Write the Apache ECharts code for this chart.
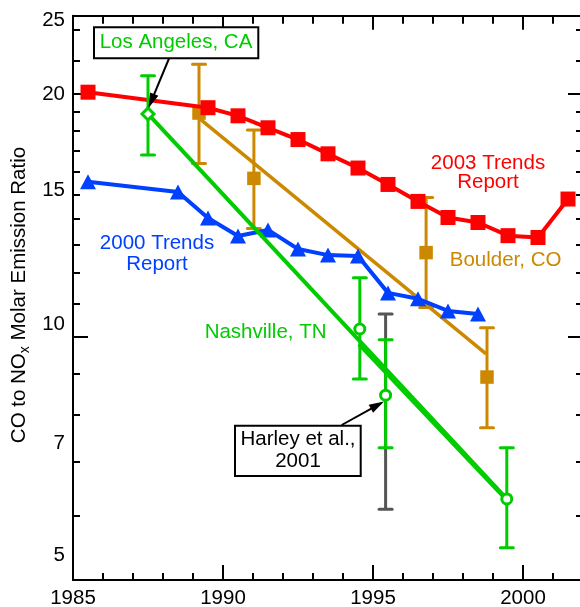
<!DOCTYPE html>
<html><head><meta charset="utf-8">
<script src="https://cdn.jsdelivr.net/npm/echarts@6/dist/echarts.min.js"></script>
<style>html,body{margin:0;padding:0;background:#fff;}#c{width:580px;height:607px;}</style>
</head><body><div id="c"></div>
<script>
// ---- axis ticks / labels ----
const xTickLabels = [1985, 1990, 1995, 2000];
const yTickLabels = [5, 7, 10, 15, 20, 25];
const yMinorTicks = [6, 7, 8, 9, 11, 12, 13, 14, 15, 16, 17, 18, 19, 22, 24];
const yMajorTicks = [10, 20];

// ---- 2003 Trends Report (red) ----
const redYears  = [1985.5, 1989.5, 1990.5, 1991.5, 1992.5, 1993.5, 1994.5, 1995.5, 1996.5, 1997.5, 1998.5, 1999.5, 2000.5, 2001.5];
const redValues = [20.1, 19.23, 18.79, 18.16, 17.56, 16.86, 16.19, 15.45, 14.72, 14.06, 13.86, 13.35, 13.28, 14.82];

// ---- 2000 Trends Report (blue) ----
const blueYears  = [1985.5, 1988.5, 1989.5, 1990.5, 1991.5, 1992.5, 1993.5, 1994.5, 1995.5, 1996.5, 1997.5, 1998.5];
const blueValues = [15.57, 15.12, 14.04, 13.34, 13.57, 12.85, 12.63, 12.6, 11.34, 11.15, 10.77, 10.68];

// ---- Boulder, CO (orange) ----
const boulderYears  = [1989.2, 1991.03, 1996.77, 1998.8];
const boulderValues = [18.94, 15.72, 12.72, 8.92];
const boulderLow    = [16.4, 13.63, 10.88, 7.72];
const boulderHigh   = [21.76, 18.05, 14.88, 10.27];
const boulderFitYears  = [1989.2, 1998.77];
const boulderFitValues = [18.67, 9.53];

// ---- Los Angeles, CA (green) ----
const laYears  = [1987.5, 1999.46];
const laValues = [18.89, 6.30];
const laLow    = [16.8, 5.48];
const laHigh   = [21.07, 7.29];

// ---- Nashville, TN (green) ----
const nashYears  = [1994.56, 1995.42];
const nashValues = [10.23, 8.47];
const nashLow    = [8.87, 7.29];
const nashHigh   = [11.84, 9.92];
const nashFitYears  = [1994.53, 1999.46];
const nashFitValues = [9.80, 6.28];

// ---- Harley et al., 2001 (gray) ----
const harleyYears = [1995.42];
const harleyLow   = [6.12];
const harleyHigh  = [10.68];

// ---- styling ----
const RED = '#ff0000', BLUE = '#0040ff', GREEN = '#00cc00', ORANGE = '#cc8800', GRAY = '#555555';
const FONT = 'Liberation Sans, Arial, Helvetica, sans-serif';
const FS = 20.5;
const L = v => Math.log10(v);
// label scale of the y axis (labels in the original are drawn on a slightly different log scale than the ticks)
const LABEL_MIN = 4.638, LABEL_MAX = 25.33;

const pairs = (xs, ys) => xs.map((x, i) => [x, L(ys[i])]);
const errData = (xs, lo, hi) => xs.map((x, i) => [x, L(lo[i]), L(hi[i])]);

function errRender(color) {
  return function (params, api) {
    const x = api.value(0);
    const pLo = api.coord([x, api.value(1)]);
    const pHi = api.coord([x, api.value(2)]);
    const hw = 6.5;
    const st = { stroke: color, lineWidth: 3, fill: null, lineCap: 'round' };
    return {
      type: 'group', children: [
        { type: 'line', shape: { x1: pLo[0], y1: pLo[1], x2: pHi[0], y2: pHi[1] }, style: { stroke: color, lineWidth: 3 } },
        { type: 'line', shape: { x1: pLo[0] - hw, y1: pLo[1], x2: pLo[0] + hw, y2: pLo[1] }, style: st },
        { type: 'line', shape: { x1: pHi[0] - hw, y1: pHi[1], x2: pHi[0] + hw, y2: pHi[1] }, style: st }
      ]
    };
  };
}

function arrow(x1, y1, x2, y2) {
  const dx = x2 - x1, dy = y2 - y1, len = Math.hypot(dx, dy);
  const ux = dx / len, uy = dy / len, hl = 15, hw = 4.5;
  const bx = x2 - ux * hl, by = y2 - uy * hl;
  return [
    { type: 'line', shape: { x1, y1, x2: bx + ux * 2, y2: by + uy * 2 }, style: { stroke: '#000', lineWidth: 2 }, z: 20 },
    { type: 'polygon', shape: { points: [[x2, y2], [bx - uy * hw, by + ux * hw], [bx + uy * hw, by - ux * hw]] }, style: { fill: '#000' }, z: 20 }
  ];
}

const axisLineStyle = { color: '#000', width: 2 };
const yBase = { type: 'value', min: L(5), max: L(25), splitLine: { show: false }, axisLabel: { show: false } };
const xBase = { type: 'value', min: 1985, max: 2002, splitLine: { show: false } };

const chart = echarts.init(document.getElementById('c'), null, { renderer: 'canvas' });
chart.setOption({
  animation: false,
  backgroundColor: '#fff',
  grid: { left: 73, top: 15.7, right: -3, bottom: 27, containLabel: false, outerBoundsMode: 'none' },
  xAxis: [
    Object.assign({}, xBase, { position: 'bottom', interval: 1,
      axisLine: { lineStyle: axisLineStyle },
      axisTick: { inside: true, length: 7, lineStyle: { color: '#000', width: 2 } },
      axisLabel: { fontSize: FS, fontFamily: FONT, color: '#000', margin: 7.5,
        formatter: v => (xTickLabels.indexOf(Math.round(v)) >= 0 ? String(Math.round(v)) : '') } }),
    Object.assign({}, xBase, { position: 'bottom', interval: 5,
      axisLine: { show: false },
      axisTick: { inside: true, length: 15, lineStyle: { color: '#000', width: 2 } },
      axisLabel: { show: false } }),
    Object.assign({}, xBase, { position: 'top', interval: 1,
      axisLine: { lineStyle: axisLineStyle },
      axisTick: { inside: true, length: 8, lineStyle: { color: '#000', width: 2 } },
      axisLabel: { show: false } }),
    Object.assign({}, xBase, { position: 'top', interval: 5,
      axisLine: { show: false },
      axisTick: { inside: true, length: 14, lineStyle: { color: '#000', width: 2 } },
      axisLabel: { show: false } })
  ],
  yAxis: [
    Object.assign({}, yBase, { position: 'left', axisLine: { show: true, lineStyle: axisLineStyle },
      axisTick: { inside: true, length: 7, lineStyle: { color: '#000', width: 2 }, customValues: yMinorTicks.map(L) } }),
    Object.assign({}, yBase, { position: 'left', axisLine: { show: false },
      axisTick: { inside: true, length: 15, lineStyle: { color: '#000', width: 2 }, customValues: yMajorTicks.map(L) } }),
    Object.assign({}, yBase, { position: 'right', axisLine: { show: true, lineStyle: axisLineStyle },
      axisTick: { inside: true, length: 7, lineStyle: { color: '#000', width: 2 }, customValues: yMinorTicks.map(L) } }),
    Object.assign({}, yBase, { position: 'right', axisLine: { show: false },
      axisTick: { inside: true, length: 15, lineStyle: { color: '#000', width: 2 }, customValues: yMajorTicks.map(L) } }),
    { type: 'value', position: 'left', min: L(LABEL_MIN), max: L(LABEL_MAX), splitLine: { show: false },
      axisLine: { show: false }, axisTick: { show: false },
      axisLabel: { show: true, customValues: yTickLabels.map(L), fontSize: FS, fontFamily: FONT, color: '#000', margin: 8,
        formatter: v => String(Math.round(Math.pow(10, v))) } }
  ],
  series: [
    { type: 'custom', name: 'Boulder err', renderItem: errRender(ORANGE), data: errData(boulderYears, boulderLow, boulderHigh), encode: { x: 0, y: [1, 2] }, z: 2 },
    { type: 'line', name: 'Boulder fit', data: pairs(boulderFitYears, boulderFitValues), symbol: 'none', lineStyle: { color: ORANGE, width: 3.5 }, z: 2 },
    { type: 'scatter', name: 'Boulder, CO', data: pairs(boulderYears, boulderValues), symbol: 'rect', symbolSize: 13.5, itemStyle: { color: ORANGE, opacity: 1 }, z: 2 },
    { type: 'line', name: '2003 Trends Report', data: pairs(redYears, redValues), symbol: 'rect', symbolSize: 15, showAllSymbol: true,
      lineStyle: { color: RED, width: 4 }, itemStyle: { color: RED, borderWidth: 0 }, z: 3 },
    { type: 'line', name: '2000 Trends Report', data: pairs(blueYears, blueValues), symbol: 'triangle', symbolSize: [16, 15], showAllSymbol: true,
      lineStyle: { color: BLUE, width: 4 }, itemStyle: { color: BLUE, borderWidth: 0 }, z: 4 },
    { type: 'custom', name: 'Harley err', renderItem: errRender(GRAY), data: errData(harleyYears, harleyLow, harleyHigh), encode: { x: 0, y: [1, 2] }, z: 5 },
    { type: 'line', name: 'LA fit', data: pairs(laYears, laValues), symbol: 'none', lineStyle: { color: GREEN, width: 4 }, z: 6 },
    { type: 'line', name: 'Nashville fit', data: pairs(nashFitYears, nashFitValues), symbol: 'none', lineStyle: { color: GREEN, width: 4 }, z: 6 },
    { type: 'custom', name: 'LA err', renderItem: errRender(GREEN), data: errData(laYears, laLow, laHigh), encode: { x: 0, y: [1, 2] }, z: 7 },
    { type: 'custom', name: 'Nashville err', renderItem: errRender(GREEN), data: errData(nashYears, nashLow, nashHigh), encode: { x: 0, y: [1, 2] }, z: 7 },
    { type: 'scatter', name: 'LA', data: pairs(laYears, laValues).map((p, i) => ({ value: p, symbol: i === 0 ? 'diamond' : 'circle', symbolSize: i === 0 ? 12 : 10 })),
      itemStyle: { color: '#fff', borderColor: GREEN, borderWidth: 3, opacity: 1 }, z: 8 },
    { type: 'scatter', name: 'Nashville', data: pairs(nashYears, nashValues), symbol: 'circle', symbolSize: 10,
      itemStyle: { color: '#fff', borderColor: GREEN, borderWidth: 3, opacity: 1 }, z: 8 }
  ],
  graphic: [
    { type: 'text', x: 19, y: 295, rotation: Math.PI / 2, z: 20,
      style: { text: '{a|CO to NO}{s|x}{a| Molar Emission Ratio}', align: 'center', verticalAlign: 'middle',
        rich: { a: { fontSize: FS, fontFamily: FONT, fill: '#000', lineHeight: 26 },
                s: { fontSize: 14, fontFamily: FONT, fill: '#000', lineHeight: 14, verticalAlign: 'bottom' } } } },
    { type: 'text', x: 488, y: 172.5, z: 20, style: { text: '2003 Trends\nReport', fill: RED, fontSize: FS, fontFamily: FONT, lineHeight: 19, align: 'center', verticalAlign: 'middle' } },
    { type: 'text', x: 157, y: 253.7, z: 20, style: { text: '2000 Trends\nReport', fill: BLUE, fontSize: FS, fontFamily: FONT, lineHeight: 20.7, align: 'center', verticalAlign: 'middle' } },
    { type: 'text', x: 265.6, y: 332.5, z: 20, style: { text: 'Nashville, TN', fill: GREEN, fontSize: FS, fontFamily: FONT, align: 'center', verticalAlign: 'middle' } },
    { type: 'text', x: 505.6, y: 260.8, z: 20, style: { text: 'Boulder, CO', fill: ORANGE, fontSize: FS, fontFamily: FONT, align: 'center', verticalAlign: 'middle' } },
    { type: 'rect', shape: { x: 94, y: 27.3, width: 164.3, height: 31 }, style: { fill: '#fff', stroke: '#000', lineWidth: 2 }, z: 19 },
    { type: 'text', x: 176, y: 42.5, z: 20, style: { text: 'Los Angeles, CA', fill: GREEN, fontSize: FS, fontFamily: FONT, align: 'center', verticalAlign: 'middle' } },
    { type: 'rect', shape: { x: 235, y: 425.7, width: 125.7, height: 50.3 }, style: { fill: '#fff', stroke: '#000', lineWidth: 2 }, z: 19 },
    { type: 'text', x: 298, y: 450.5, z: 20, style: { text: 'Harley et al.,\n2001', fill: '#000', fontSize: FS, fontFamily: FONT, lineHeight: 22.5, align: 'center', verticalAlign: 'middle' } }
  ].concat(arrow(169, 58.5, 148.5, 108), arrow(341.7, 425, 384, 401.5))
});
</script></body></html>
